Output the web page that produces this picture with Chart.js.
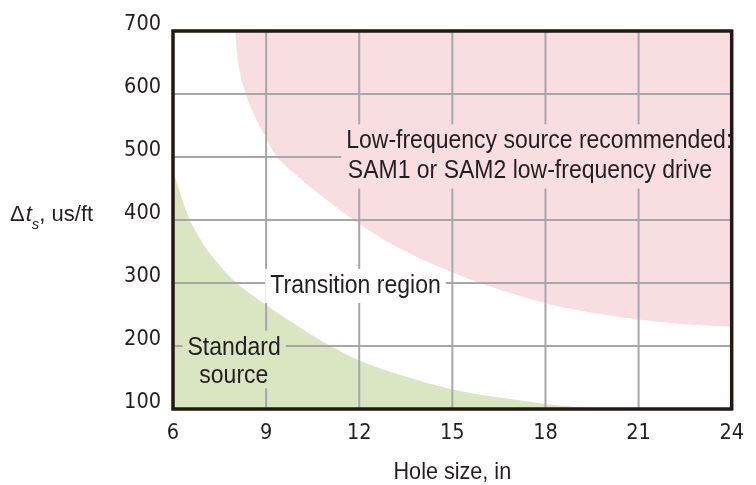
<!DOCTYPE html>
<html>
<head>
<meta charset="utf-8">
<script src="https://cdn.jsdelivr.net/npm/chart.js@4.4.0/dist/chart.umd.min.js"></script>
<style>
  body { margin: 0; background: #fff; }
  #wrap { width: 756px; height: 485px; position: relative; }
</style>
</head>
<body>
<div id="wrap"><canvas id="mycanvas"></canvas></div>
<script>
// region boundaries: hole size (in) vs shear slowness (us/ft)
var lowFreqSize = [8.0, 8.1, 8.35, 8.65, 9.0, 9.3, 10, 11, 12, 13, 14, 15, 16, 17, 18, 19, 20, 21, 22, 23, 24];
var lowFreqDt   = [700, 650, 600, 563, 530, 503, 470, 430, 394, 363, 338, 317, 298, 282, 268, 257, 249, 242, 237, 233, 231];

var standardSize = [6, 6.5, 7, 7.5, 8, 9, 10, 11, 12, 13, 14, 15, 16, 17, 18, 19, 20];
var standardDt   = [478, 405, 360, 328, 302, 265, 232, 202, 177, 159, 144, 131, 122, 115, 108, 103, 100];

var xTicks = [6, 9, 12, 15, 18, 21, 24];
var yTicks = [100, 200, 300, 400, 500, 600, 700];

// region notes, placed in data units (centre x, baseline y)
var noteText  = ['Low-frequency source recommended:', 'SAM1 or SAM2 low-frequency drive', 'Transition region', 'Standard', 'source'];
var noteX     = [17.8, 17.5, 11.88, 7.97, 7.96];
var noteY     = [514, 466, 284, 186, 141];
var noteGroup = [0, 0, 1, 2, 2];

var tickFam = "'DejaVu Sans Condensed', 'DejaVu Sans', sans-serif";
var textFam = "'Liberation Sans', Arial, sans-serif";
var squeeze = 0.92;   // narrow look for the note text
var ink = '#231f20';

function pts(xs, ys) {
  var out = [];
  for (var i in xs) out.push({x: xs[i], y: ys[i]});
  return out;
}

function narrowText(ctx, txt, x, y, sx) {
  ctx.save();
  ctx.translate(x, y);
  ctx.scale(sx, 1);
  ctx.fillText(txt, 0, 0);
  ctx.restore();
}

var overlay = {
  id: 'overlay',
  afterDatasetsDraw: function(chart) {
    var ctx = chart.ctx, a = chart.chartArea;
    var xs = chart.scales.x, ys = chart.scales.y;

    // boxes round the notes, grid lines stop there
    ctx.save();
    ctx.font = '25px ' + textFam;
    var boxes = [];
    for (var i = 0; i < noteText.length; i++) {
      var m = ctx.measureText(noteText[i]);
      var w = m.width * squeeze;
      var px = xs.getPixelForValue(noteX[i]), py = ys.getPixelForValue(noteY[i]);
      var l = px - w / 2, r = px + w / 2;
      var t = py - m.actualBoundingBoxAscent, b = py + m.actualBoundingBoxDescent;
      var g = boxes[noteGroup[i]];
      if (!g) boxes[noteGroup[i]] = {l: l, r: r, t: t, b: b};
      else { g.l = Math.min(g.l, l); g.r = Math.max(g.r, r); g.t = Math.min(g.t, t); g.b = Math.max(g.b, b); }
    }
    ctx.beginPath();
    ctx.rect(a.left, a.top, a.right - a.left, a.bottom - a.top);
    boxes.forEach(function(bx) {
      ctx.rect(bx.l - 5, bx.t - 5, bx.r - bx.l + 10, bx.b - bx.t + 10);
    });
    ctx.clip('evenodd');

    ctx.strokeStyle = '#a7a7aa';
    ctx.lineWidth = 2;
    ctx.beginPath();
    xTicks.forEach(function(v) {
      var p = xs.getPixelForValue(v);
      ctx.moveTo(p, a.top); ctx.lineTo(p, a.bottom);
    });
    yTicks.forEach(function(v) {
      var p = ys.getPixelForValue(v);
      ctx.moveTo(a.left, p); ctx.lineTo(a.right, p);
    });
    ctx.stroke();
    ctx.restore();

    // frame
    ctx.save();
    ctx.strokeStyle = '#231815';
    ctx.lineWidth = 3.5;
    ctx.strokeRect(a.left, a.top, a.right - a.left, a.bottom - a.top);
    ctx.restore();

    // notes
    ctx.save();
    ctx.font = '25px ' + textFam;
    ctx.fillStyle = ink;
    ctx.textAlign = 'center';
    ctx.textBaseline = 'alphabetic';
    for (var j = 0; j < noteText.length; j++) {
      narrowText(ctx, noteText[j], xs.getPixelForValue(noteX[j]), ys.getPixelForValue(noteY[j]), squeeze);
    }

    // x title
    ctx.font = '24px ' + textFam;
    narrowText(ctx, 'Hole size, in', (a.left + a.right) / 2, 479, 0.9);

    // y title: Δt_s, us/ft
    ctx.textAlign = 'left';
    var base = ys.getPixelForValue(400) + 1;
    var cx = 10;
    ctx.font = '22px ' + textFam;
    ctx.fillText('\u0394', cx, base);
    cx += ctx.measureText('\u0394').width + 1;
    ctx.font = 'italic 22px ' + textFam;
    ctx.fillText('t', cx, base);
    cx += ctx.measureText('t').width;
    ctx.font = 'italic 15px ' + textFam;
    ctx.fillText('s', cx, base + 8);
    cx += ctx.measureText('s').width;
    ctx.font = '22px ' + textFam;
    ctx.fillText(', us/ft', cx, base);
    ctx.restore();
  }
};

var ctx = document.getElementById('mycanvas');

var chart = new Chart(ctx, {
  type: 'line',
  data: {
    datasets: [
      {
        label: 'Low-frequency source',
        data: pts(lowFreqSize, lowFreqDt),
        backgroundColor: '#f8dee1',
        borderWidth: 0,
        pointRadius: 0,
        cubicInterpolationMode: 'monotone',
        fill: 'end'
      },
      {
        label: 'Standard source',
        data: pts(standardSize, standardDt),
        backgroundColor: '#dae6c2',
        borderWidth: 0,
        pointRadius: 0,
        cubicInterpolationMode: 'monotone',
        fill: 'start'
      }
    ]
  },
  options: {
    responsive: true,
    maintainAspectRatio: false,
    animation: false,
    layout: { padding: { left: 0, right: 15, top: 31, bottom: 0 } },
    plugins: { legend: { display: false }, tooltip: { enabled: false } },
    scales: {
      x: {
        type: 'linear',
        min: xTicks[0],
        max: xTicks[xTicks.length - 1],
        afterBuildTicks: function(s) { s.ticks = xTicks.map(function(v) { return {value: v}; }); },
        afterFit: function(s) { s.height = 76; },
        grid: { display: false, drawTicks: false },
        border: { display: false },
        ticks: { color: ink, font: { family: tickFam, size: 21.5 }, padding: 12, maxRotation: 0 }
      },
      y: {
        type: 'linear',
        min: yTicks[0],
        max: yTicks[yTicks.length - 1],
        afterBuildTicks: function(s) { s.ticks = yTicks.map(function(v) { return {value: v}; }); },
        afterFit: function(s) { s.width = 173; },
        grid: { display: false, drawTicks: false },
        border: { display: false },
        ticks: { color: ink, font: { family: tickFam, size: 21.5 }, padding: 12, labelOffset: -7 }
      }
    }
  },
  plugins: [overlay]
});
</script>
</body>
</html>
